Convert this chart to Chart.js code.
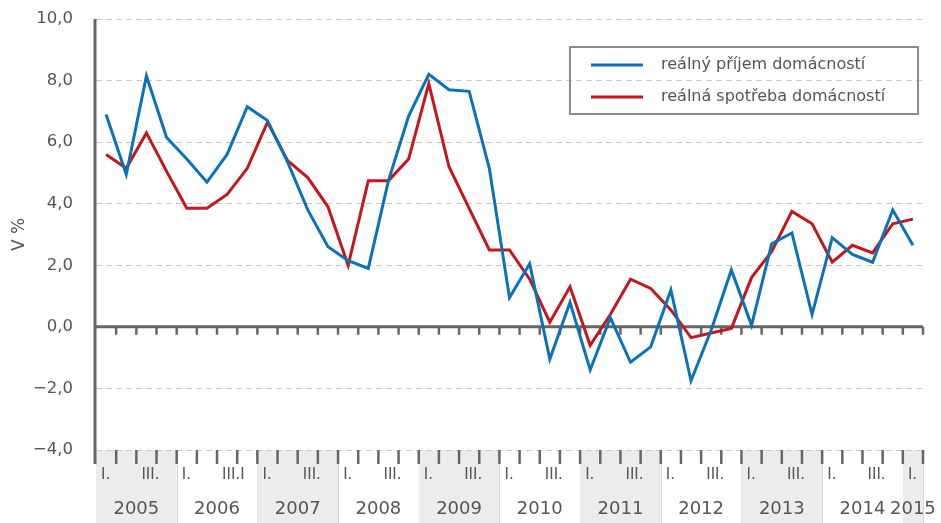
<!DOCTYPE html>
<html>
<head>
<meta charset="utf-8">
<script src="https://cdn.jsdelivr.net/npm/chart.js@4.4.1/dist/chart.umd.min.js"></script>
<style>
  html, body { margin: 0; padding: 0; background: #fff; }
  #wrap { width: 941px; height: 523px; position: relative; }
</style>
</head>
<body>
<div id="wrap"><canvas id="chart"></canvas></div>
<script>
// data
const years = ['2005', '2006', '2007', '2008', '2009', '2010', '2011', '2012', '2013', '2014', '2015'];
const quartersPerYear = [4, 4, 4, 4, 4, 4, 4, 4, 4, 4, 1];
const quarterTicks = [
  'I.', '', 'III.', '',  'I.', '', 'III.I', '',  'I.', '', 'III.', '',  'I.', '', 'III.', '',
  'I.', '', 'III.', '',  'I.', '', 'III.', '',  'I.', '', 'III.', '',  'I.', '', 'III.', '',
  'I.', '', 'III.', '',  'I.', '', 'III.', '',  'I.'
];
const income = [6.9, 4.95, 8.15, 6.15, 5.45, 4.7, 5.6, 7.15, 6.7, 5.35, 3.8, 2.6, 2.15, 1.9,
  4.75, 6.85, 8.2, 7.7, 7.65, 5.15, 0.95, 2.05, -1.05, 0.8, -1.4, 0.3, -1.15, -0.65, 1.2, -1.75,
  -0.1, 1.85, 0.05, 2.7, 3.05, 0.4, 2.9, 2.35, 2.1, 3.8, 2.65];
const consumption = [5.6, 5.15, 6.3, 5.05, 3.85, 3.85, 4.3, 5.15, 6.65, 5.4, 4.85, 3.9, 2.0, 4.75,
  4.75, 5.45, 7.9, 5.2, 3.85, 2.5, 2.5, 1.55, 0.15, 1.3, -0.6, 0.4, 1.55, 1.25, 0.55, -0.35,
  -0.2, -0.05, 1.6, 2.45, 3.75, 3.35, 2.1, 2.65, 2.4, 3.35, 3.5];
const seriesNames = ['re\u00e1ln\u00fd p\u0159\u00edjem dom\u00e1cnost\u00ed', 're\u00e1ln\u00e1 spot\u0159eba dom\u00e1cnost\u00ed'];
const seriesColors = ['#0a72b9', '#c3161f'];

const roman = ['I', 'II', 'III', 'IV'];
const labels = [];
years.forEach((y, k) => {
  for (let q = 0; q < quartersPerYear[k]; q++) labels.push(roman[q] + '. ' + y);
});

const textColor = '#555555';
const axisColor = '#666666';
const fontFam = '"DejaVu Sans", sans-serif';

// hranice kategorii na ose x
function edge(x, i) {
  const step = x.getPixelForValue(1) - x.getPixelForValue(0);
  return x.getPixelForValue(0) + (i - 0.5) * step;
}

const decor = {
  id: 'decor',
  beforeDraw(chart) {
    const { ctx, chartArea: a, scales: { x } } = chart;
    const bottom = chart.height;
    ctx.save();
    let idx = 0;
    years.forEach((yr, k) => {
      const n = quartersPerYear[k];
      const x0 = edge(x, idx), x1 = edge(x, idx + n);
      if (k % 2 === 0) {
        ctx.fillStyle = '#ececec';
        ctx.fillRect(x0, a.bottom, x1 - x0, bottom - a.bottom);
      }
      ctx.strokeStyle = '#d6d6d6';
      ctx.lineWidth = 1;
      ctx.beginPath();
      ctx.moveTo(Math.round(x1) + 0.5, a.bottom);
      ctx.lineTo(Math.round(x1) + 0.5, bottom);
      ctx.stroke();
      // rok
      ctx.fillStyle = textColor;
      ctx.font = '18px ' + fontFam;
      ctx.textAlign = 'center';
      ctx.textBaseline = 'middle';
      ctx.fillText(yr, (x0 + x1) / 2, 509);
      idx += n;
    });
    // ctvrtleti
    ctx.font = '15px ' + fontFam;
    ctx.textAlign = 'left';
    quarterTicks.forEach((t, i) => {
      if (t) ctx.fillText(t, x.getPixelForValue(i) - 5, 475);
    });
    ctx.restore();
  },
  beforeDatasetsDraw(chart) {
    const { ctx, chartArea: a, scales: { x, y } } = chart;
    const y0 = y.getPixelForValue(0);
    ctx.save();
    ctx.strokeStyle = axisColor;
    ctx.lineWidth = 3;
    ctx.beginPath();
    ctx.moveTo(a.left, y0);
    ctx.lineTo(a.right, y0);
    ctx.stroke();
    ctx.lineWidth = 2.5;
    for (let i = 1; i <= labels.length; i++) {
      const xe = edge(x, i);
      ctx.beginPath();
      ctx.moveTo(xe, y0);
      ctx.lineTo(xe, y0 + 8);
      ctx.moveTo(xe, a.bottom);
      ctx.lineTo(xe, a.bottom + 14);
      ctx.stroke();
    }
    ctx.lineWidth = 3;
    ctx.beginPath();
    ctx.moveTo(a.left - 1, a.top);
    ctx.lineTo(a.left - 1, a.bottom + 14);
    ctx.stroke();
    ctx.restore();
  },
  afterDraw(chart) {
    const { ctx } = chart;
    ctx.save();
    ctx.strokeStyle = '#8a8a8a';
    ctx.lineWidth = 2;
    ctx.strokeRect(570, 47, 348, 67);
    chart.data.datasets.forEach((ds, i) => {
      const ly = 65 + i * 32;
      ctx.strokeStyle = ds.borderColor;
      ctx.lineWidth = 3;
      ctx.beginPath();
      ctx.moveTo(591, ly);
      ctx.lineTo(643, ly);
      ctx.stroke();
      ctx.direction = 'ltr';
      ctx.textAlign = 'left';
      ctx.textBaseline = 'middle';
      ctx.font = '16px ' + fontFam;
      ctx.fillStyle = textColor;
      ctx.fillText(seriesNames[i], 661, ly);
    });
    ctx.restore();
  }
};

new Chart(document.getElementById('chart'), {
  type: 'line',
  data: {
    labels: labels,
    datasets: [
      { label: seriesNames[0], data: income, borderColor: seriesColors[0], borderWidth: 3,
        pointRadius: 0, tension: 0, fill: false },
      { label: seriesNames[1], data: consumption, borderColor: seriesColors[1], borderWidth: 3,
        pointRadius: 0, tension: 0, fill: false }
    ]
  },
  options: {
    responsive: true,
    maintainAspectRatio: false,
    animation: false,
    devicePixelRatio: 1,
    layout: { padding: { top: 19, right: 18, left: 0, bottom: 0 } },
    plugins: { legend: { display: false }, tooltip: { enabled: false } },
    scales: {
      x: {
        type: 'category',
        offset: true,
        grid: { display: false },
        border: { display: false },
        ticks: { display: false },
        afterFit(s) { s.height = 73; s.paddingLeft = 0; s.paddingRight = 0; }
      },
      y: {
        min: -4,
        max: 10,
        ticks: {
          stepSize: 2,
          padding: 23,
          color: textColor,
          font: { family: fontFam, size: 16.5 },
          callback: v => v.toFixed(1).replace('.', ',').replace('-', '−')
        },
        grid: {
          drawTicks: false,
          lineWidth: 1,
          color: c => (c.tick && c.tick.value === 0) ? 'rgba(0,0,0,0)' : '#c8c8c8'
        },
        border: { display: false, dash: [6, 4] },
        title: {
          display: true,
          text: 'V %',
          color: textColor,
          font: { family: fontFam, size: 17 },
          padding: { top: 9, bottom: 0 }
        },
        afterFit(s) { s.width = 96; s.paddingTop = 0; s.paddingBottom = 0; }
      }
    }
  },
  plugins: [decor]
});
</script>
</body>
</html>
